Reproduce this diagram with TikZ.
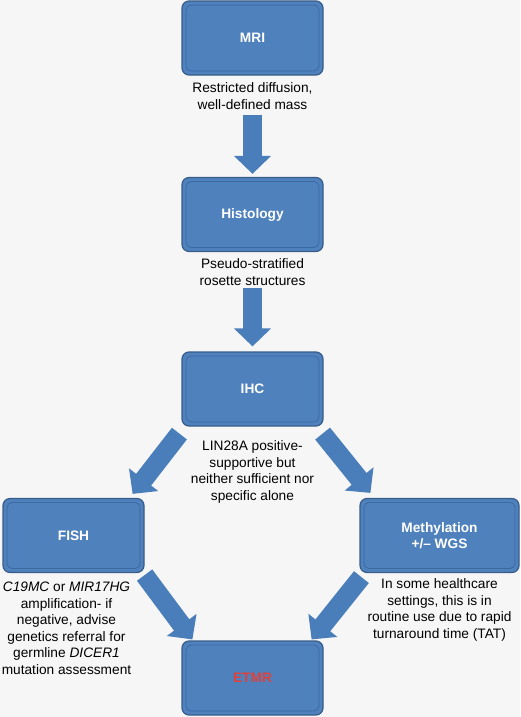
\documentclass[tikz,border=0pt]{standalone}
\usepackage{fontspec}
\setmainfont{Liberation Sans}
\usetikzlibrary{positioning,arrows.meta,backgrounds}

\definecolor{boxblue}{HTML}{4F81BD}
\definecolor{boxedge}{HTML}{385D8A}
\definecolor{boxline}{HTML}{3D69A3}
\definecolor{arrowblue}{HTML}{4A7EBB}
\definecolor{etmrred}{HTML}{E0413A}
\definecolor{paper}{HTML}{F6F6F6}

\tikzset{
  stage/.style={rounded corners=7pt, fill=boxblue, draw=boxedge, line width=1.2pt,
    minimum width=141pt, minimum height=74pt, text=white, align=center,
    font=\fontsize{13.7}{15.5}\selectfont\bfseries,
    path picture={\draw[boxline, line width=0.8pt, rounded corners=5pt]
      ([shift={(4pt,4pt)}]path picture bounding box.south west) rectangle
      ([shift={(-4pt,-4pt)}]path picture bounding box.north east);}},
  note/.style={inner sep=0pt, align=center, font=\fontsize{13.7}{16.5}\selectfont},
  flow/.style={arrowblue, line width=19pt, -{Triangle[width=36pt,length=18pt]}}
}

\begin{document}
\begin{tikzpicture}[x=1pt, y=-1pt]
    \useasboundingbox (0,0) rectangle (520,717);

    % diagnostic steps
    \node [stage] (mri) at (252.5,38) {MRI};
    \node [stage] (histo) at (252.5,214.5) {Histology};
    \node [stage] (ihc) at (252.5,389) {IHC};
    \node [stage] (fish) at (73.5,535.5) {FISH};
    \node [stage, minimum width=159pt] (meth) at (439.5,535.5) {Methylation\\+/-- WGS};
    \node [stage, text=etmrred] (etmr) at (252.5,678) {ETMR};

    % findings
    \node [note, below=7pt of mri] (mrinote) {Restricted diffusion,\\well-defined mass};
    \node [note, below=6.5pt of histo] (histonote) {Pseudo-stratified\\rosette structures};
    \node [note, below=14pt of ihc] (ihcnote) {LIN28A positive-\\supportive but\\neither sufficient nor\\specific alone};
    \node [note, below=9pt of fish, xshift=-7pt] (fishnote) {\textit{C19MC} or \textit{MIR17HG}\\amplification- if\\negative, advise\\genetics referral for\\germline \textit{DICER1}\\mutation assessment};
    \node [note, below=5.5pt of meth] (methnote) {In some healthcare\\settings, this is in\\routine use due to rapid\\turnaround time (TAT)};

    \begin{scope}[on background layer]
        \fill [paper] (0,0) rectangle (520,717);
        % straight down
        \draw [flow, shorten <=5pt, shorten >=3pt] (mrinote.south) -- (histo.north);
        \draw [flow, shorten <=2pt, shorten >=5pt] (histonote.south) -- (ihc.north);
        % split
        \draw [flow] ([shift={(-2,7)}]ihc.south west) -- ([shift={(-12,-4)}]fish.north east);
        \draw [flow] ([shift={(-1,7)}]ihc.south east) -- ([shift={(11,-5)}]meth.north west);
        % join
        \draw [flow] ([shift={(0,2)}]fish.south east) -- ([shift={(11,-1)}]etmr.north west);
        \draw [flow] ([shift={(2,4)}]meth.south west) -- ([shift={(-12,-1)}]etmr.north east);
    \end{scope}
\end{tikzpicture}
\end{document}
